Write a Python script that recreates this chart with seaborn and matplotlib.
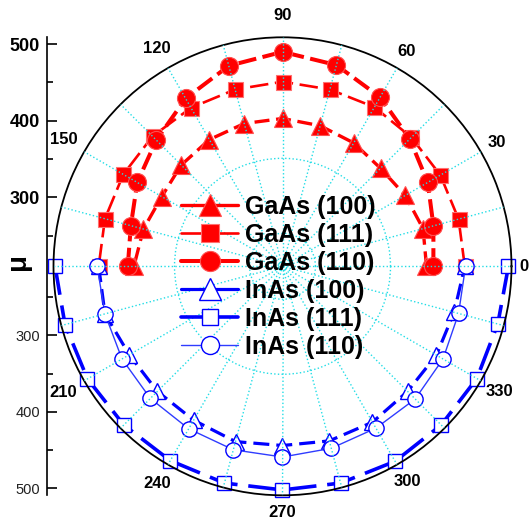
import numpy as np
import matplotlib
matplotlib.use("Agg")
import matplotlib.pyplot as plt
import seaborn as sns

# Angles (degrees): GaAs on the upper half, InAs on the lower half
angles_upper = [0, 15, 30, 45, 60, 75, 90, 105, 120, 135, 150, 165, 180]
angles_lower = [180, 195, 210, 225, 240, 255, 270, 285, 300, 315, 330, 345, 360]

# Mobility values (μ) per orientation
gaas_100 = [398, 400, 395, 391, 396, 400, 403, 403, 401, 397, 392, 398, 404]
gaas_111 = [448, 448, 448, 448, 450, 449, 451, 449, 449, 450, 450, 450, 450]
gaas_110 = [407, 414, 429, 445, 465, 482, 490, 481, 463, 443, 429, 415, 412]
inas_100 = [450, 450, 441, 441, 442, 447, 444, 446, 445, 441, 442, 442, 448]
inas_111 = [507, 504, 504, 503, 503, 503, 502, 503, 504, 503, 503, 501, 505]
inas_110 = [452, 450, 452, 454, 455, 458, 459, 456, 454, 455, 452, 448, 449]

labels = ["GaAs (100)", "GaAs (111)", "GaAs (110)",
          "InAs (100)", "InAs (111)", "InAs (110)"]

# Angular labels (180 is left unlabelled) and their distance outside the rim (px)
angle_labels = [0, 30, 60, 90, 120, 150, 210, 240, 270, 300, 330]
label_gap_px = [12, 18, 19, 22, 23, 24, 24, 22, 17, 20, 21]

# Radial range of the polar plot and the μ scale drawn at the left
R_MIN, R_MAX = 210, 509
mu_ticks = [500, 400, 300]
mu_minor = [450, 350, 250]

sns.set_theme(style="white")
plt.rcParams["font.family"] = ["Liberation Sans", "DejaVu Sans"]
plt.rcParams["text.color"] = "black"
plt.rcParams["xtick.color"] = "black"
plt.rcParams["ytick.color"] = "black"

W, H = 529, 524
fig = plt.figure(figsize=(W / 100, H / 100), dpi=100)

cx, cy, rad = 282.5, 524 - 266.3, 229.0
ax = fig.add_axes([(cx - rad) / W, (cy - rad) / H, 2 * rad / W, 2 * rad / H],
                  projection="polar")
ax.set_axisbelow(False)

RED, BLUE = "#ff0000", "#0000ff"

series = [
    (angles_upper, gaas_100, dict(color=RED, marker="^", markersize=12.5, lw=2.4,
                                  linestyle=(0, (4.5, 2.0)), markerfacecolor=RED,
                                  markeredgecolor="#ff5050", markeredgewidth=0.8)),
    (angles_upper, gaas_111, dict(color=RED, marker="s", markersize=10.8, lw=1.9,
                                  linestyle=(0, (7, 2.5)), markerfacecolor=RED,
                                  markeredgecolor="#ff7070", markeredgewidth=0.8)),
    (angles_upper, gaas_110, dict(color=RED, marker="o", markersize=13, lw=2.9,
                                  linestyle=(0, (4.5, 1.6)), markerfacecolor=RED,
                                  markeredgecolor="#ff5050", markeredgewidth=0.8)),
    (angles_lower, inas_100, dict(color=BLUE, marker="^", markersize=11, lw=2.3,
                                  linestyle=(0, (5, 2.2)), markerfacecolor="white",
                                  markeredgecolor=BLUE, markeredgewidth=1.0)),
    (angles_lower, inas_111, dict(color=BLUE, marker="s", markersize=10, lw=2.6,
                                  linestyle=(0, (8, 3)), markerfacecolor="white",
                                  markeredgecolor=BLUE, markeredgewidth=1.0)),
    (angles_lower, inas_110, dict(color="#2f3cff", marker="o", markersize=11, lw=1.0,
                                  linestyle="-", markerfacecolor="white",
                                  markeredgecolor=BLUE, markeredgewidth=1.0)),
]

for (ang, vals, style), lab in zip(series, labels):
    sns.lineplot(x=np.deg2rad(np.asarray(ang, float)), y=np.asarray(vals, float),
                 ax=ax, errorbar=None, sort=False, label=lab, clip_on=False,
                 legend=False, **style)

ax.set_theta_zero_location("E")
ax.set_theta_direction(1)
ax.set_rlim(R_MIN, R_MAX)
ax.set_xlabel("")
ax.set_ylabel("")

# Spokes every 15 degrees; the angle numbers are written just outside the rim
theta_deg = np.arange(0, 360, 15)
ax.set_xticks(np.deg2rad(theta_deg))
ax.set_xticklabels([])
ax.tick_params(axis="x", length=0)
r_per_px = (R_MAX - R_MIN) / rad
for a, gap in zip(angle_labels, label_gap_px):
    ax.text(np.deg2rad(a), R_MAX + gap * r_per_px, str(a), ha="center", va="center",
            fontsize=12, fontweight="bold", color="black", clip_on=False)

ax.set_yticks([253, 351])
ax.set_yticklabels([])
ax.grid(True, color="#22dde6", linestyle=":", linewidth=1.0)
ax.spines["polar"].set_color("black")
ax.spines["polar"].set_linewidth(1.3)

# Left μ scale: mirrored above and below the polar centre
axl = fig.add_axes([46.7 / W, (cy - rad) / H, 0.001, 2 * rad / H])
axl.set_ylim(-(R_MAX - R_MIN), R_MAX - R_MIN)
axl.set_facecolor("none")
for s in ("top", "right", "bottom"):
    axl.spines[s].set_visible(False)
axl.spines["left"].set_color("black")
axl.spines["left"].set_linewidth(1.2)
axl.xaxis.set_visible(False)
major = [v - R_MIN for v in mu_ticks] + [-(v - R_MIN) for v in mu_ticks]
minor = [v - R_MIN for v in mu_minor] + [-(v - R_MIN) for v in mu_minor]
axl.set_yticks(major)
axl.set_yticklabels([str(v) for v in mu_ticks] * 2)
axl.set_yticks(minor, minor=True)
axl.tick_params(axis="y", which="major", direction="in", length=7, width=1.2,
                pad=5, left=True, colors="black")
axl.tick_params(axis="y", which="minor", direction="in", length=4, width=1.2,
                left=True, colors="black")
for i, t in enumerate(axl.get_yticklabels()):
    if i < 3:
        t.set_fontsize(13)
        t.set_fontweight("bold")
        t.set_color("black")
    else:
        t.set_fontsize(10.5)
        t.set_color("#222222")
axl.grid(False)
fig.text(18 / W, (524 - 262) / H, "μ", rotation=90, ha="center", va="center",
         fontsize=20, fontweight="bold", color="black")

handles, labs = ax.get_legend_handles_labels()
leg = ax.legend(handles, labs, loc="center", bbox_to_anchor=(278.5 / W, (524 - 276.7) / H),
                bbox_transform=fig.transFigure, frameon=False,
                prop=dict(size=18, weight="bold"), handlelength=2.3,
                handletextpad=0.28, labelspacing=0.16, borderpad=0)
for t in leg.get_texts():
    t.set_color("black")
for h, ms in zip(leg.legend_handles, [15.5, 13, 14.5, 15.5, 11, 13]):
    h.set_markersize(ms)
    h.set_linestyle("-")

fig.savefig("out.png", dpi=100)
